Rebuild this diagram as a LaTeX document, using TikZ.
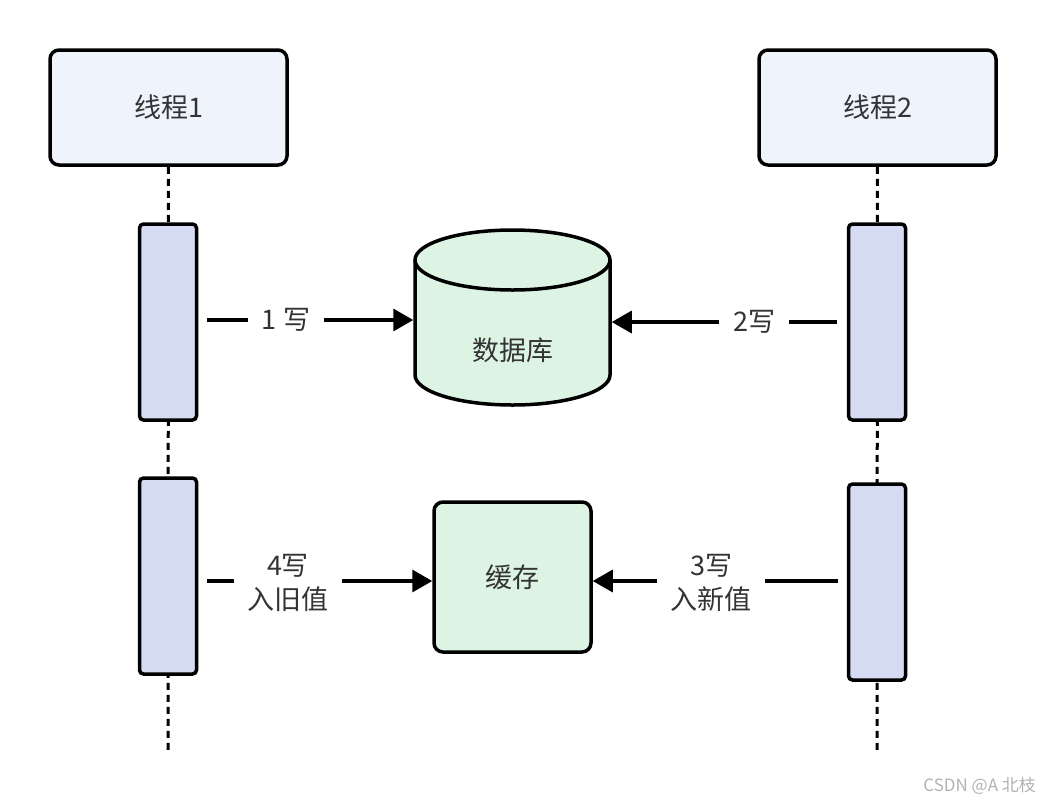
\documentclass[tikz,border=0pt]{standalone}
\usepackage{fontspec}
\setmainfont{Noto Sans CJK SC}
\usetikzlibrary{arrows.meta}
\definecolor{threadblue}{HTML}{EEF3FC}
\definecolor{barblue}{HTML}{D5DBF3}
\definecolor{storegreen}{HTML}{DDF4E5}
\definecolor{inkgray}{HTML}{333333}

\begin{document}
\begin{tikzpicture}[x=1pt, y=-1pt, line width=3.5pt,
  every node/.style={text=inkgray, font=\fontsize{27}{34}\selectfont},
  thread/.style={draw, rounded corners=9pt, fill=threadblue, minimum width=237pt, minimum height=115pt},
  bar/.style={draw, rounded corners=4pt, fill=barblue, minimum width=57pt},
  store/.style={draw, fill=storegreen},
  lifeline/.style={dash pattern=on 7pt off 5pt, line width=3pt},
  msg/.style={-{Triangle[length=20pt, width=22pt]}},
  tag/.style={align=center, inner sep=12pt}]
  \useasboundingbox (0,0) rectangle (1046,804);
  \node[thread] (t1) at (168.5,107.5) {线程1};
  \node[thread] (t2) at (877.5,107.5) {线程2};
  \coordinate (e1) at (168,752);
  \coordinate (e2) at (877,752);
  \draw[lifeline] (t1) -- (e1);
  \draw[lifeline] (t2) -- (e2);
  \node[bar, minimum height=196pt] (a1) at (168,322) {};
  \node[bar, minimum height=196pt] (a2) at (168,576) {};
  \node[bar, minimum height=196pt] (b1) at (877,322) {};
  \node[bar, minimum height=196pt] (b2) at (877,582) {};
  \draw[store] (415,260) -- (415,375) arc[start angle=180, end angle=0, x radius=97.5, y radius=30]
    -- (610,260) arc[start angle=0, end angle=-180, x radius=97.5, y radius=30] -- cycle;
  \draw (415,260) arc[start angle=180, end angle=0, x radius=97.5, y radius=30];
  \node[minimum width=195pt, minimum height=175pt] (db) at (512.5,318) {};
  \node (dbtext) at (512.5,350) {数据库};
  \node[store, rounded corners=9pt, minimum width=157pt, minimum height=150pt] (cache) at (512.5,577) {缓存};
  \node[tag] (l1) at (286,320) {1 写};
  \node[tag] (l2) at (754,322) {2写};
  \node[tag] (l4) at (288,583) {4写\\入旧值};
  \node[tag] (l3) at (711,583) {3写\\入新值};
  \coordinate (y4) at (0,581);
  \draw (a1.east |- l1) ++(9,0) -- (l1);
  \draw[msg] (l1) -- (db.west |- l1);
  \draw (b1.west |- l2) ++(-10,0) -- (l2);
  \draw[msg] (l2) -- (db.east |- l2);
  \draw (a2.east |- y4) ++(9,0) -- (l4.west |- y4);
  \draw[msg] (l4.east |- y4) -- (cache.west |- y4);
  \draw (b2.west |- y4) ++(-9,0) -- (l3.east |- y4);
  \draw[msg] (l3.west |- y4) -- (cache.east |- y4);
  \node[text=gray!60, font=\fontsize{17}{19}\selectfont, anchor=east] (wm) at (1041,786) {CSDN @A 北枝};
\end{tikzpicture}
\end{document}
